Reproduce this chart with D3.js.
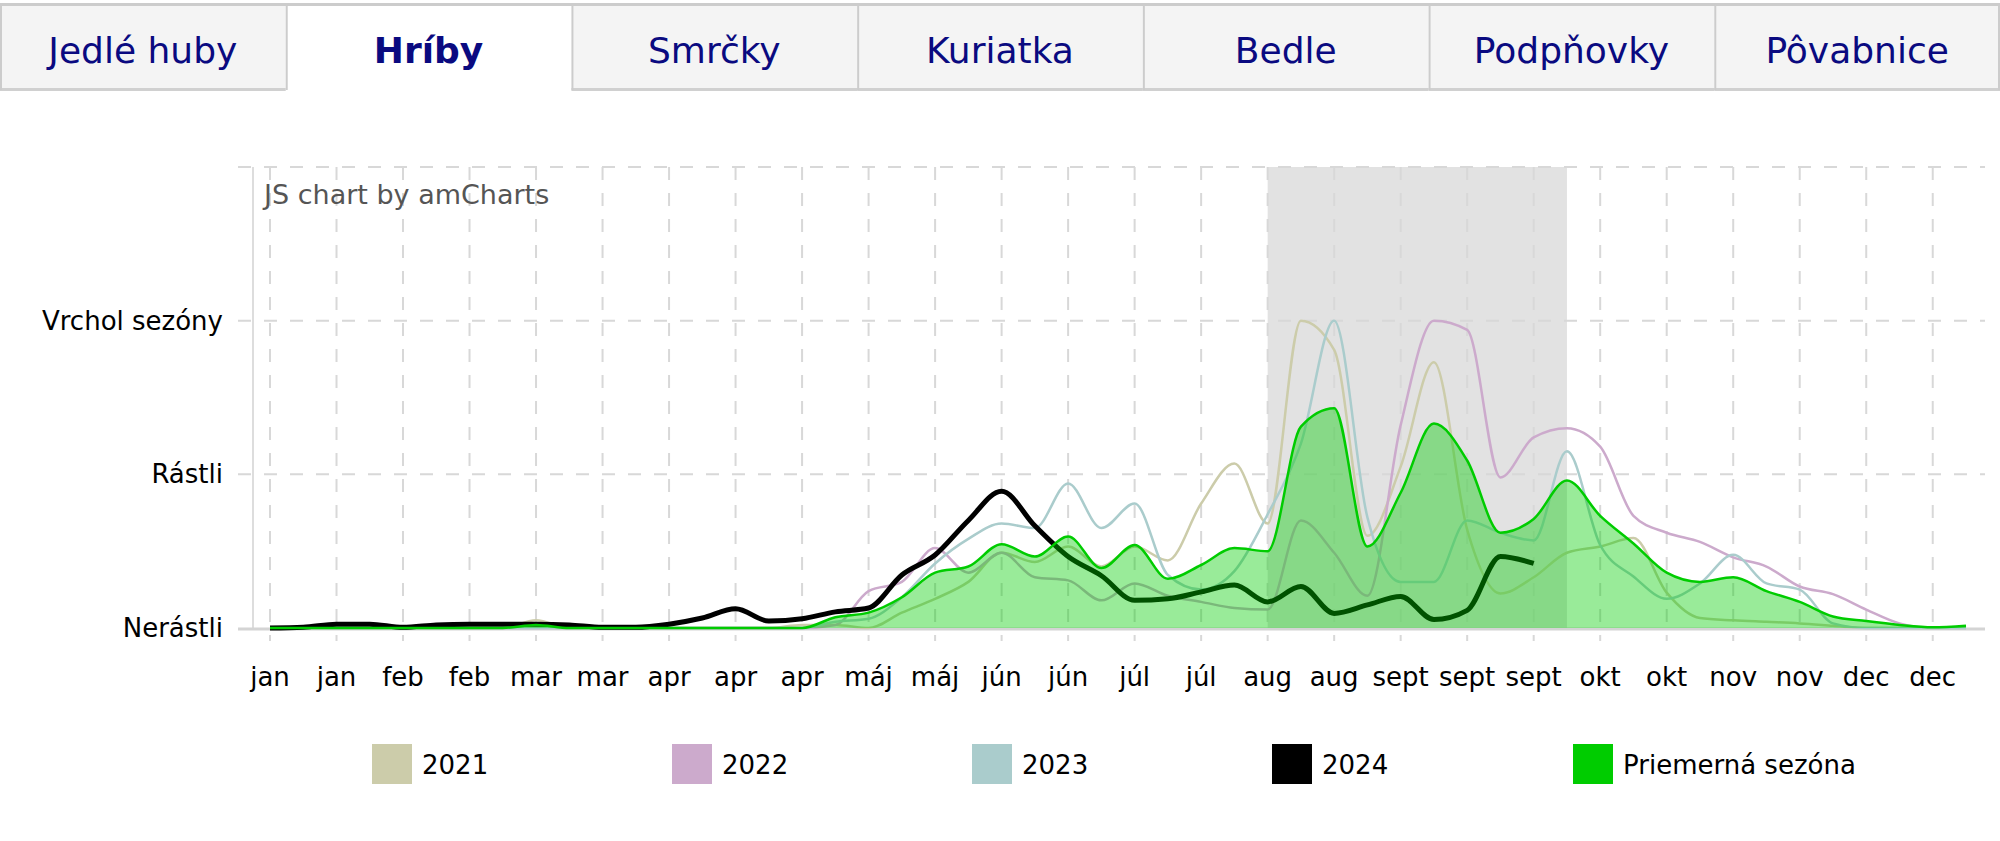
<!DOCTYPE html>
<html><head><meta charset="utf-8">
<script src="https://cdn.jsdelivr.net/npm/d3@7"></script>
<style>
html,body{margin:0;padding:0;background:#fff;}
svg{display:block;font-family:"DejaVu Sans",Verdana,sans-serif;}
</style></head>
<body><svg id="c" width="2000" height="841"></svg>
<script>
// ---- data ----
const tabs = ["Jedlé huby","Hríby","Smrčky","Kuriatka","Bedle","Podpňovky","Pôvabnice"];
const activeTab = 1;
const xTickLabels = ["jan","jan","feb","feb","mar","mar","apr","apr","apr","máj","máj","jún","jún","júl","júl","aug","aug","sept","sept","sept","okt","okt","nov","nov","dec","dec"];
const yTickLabels = ["Nerástli","Rástli","Vrchol sezóny"];
const seriesNames = ["2021","2022","2023","2024","Priemerná sezóna"];
const seriesColors = ["#CCCCAA","#CCAACC","#AACCCC","#000000","#00CC00"];
const s2021 = [0,0,0,0,0,0,0,0,0.05,0,0,0,0,0,0,0,0.02,0.02,0,0.10,0.19,0.30,0.49,0.43,0.53,0.40,0.53,0.44,0.81,1.07,0.68,2.0,1.81,0.60,1.05,1.73,0.64,0.225,0.33,0.49,0.53,0.585,0.23,0.065,0.05,0.04,0.03,0.015,0,0,0,0];
const s2022 = [0,0,0,0,0,0,0,0,0,0,0,0,0,0,0,0,0,0.02,0.24,0.30,0.52,0.36,0.49,0.33,0.31,0.18,0.29,0.21,0.17,0.13,0.12,0.70,0.49,0.21,1.32,2.0,1.94,0.98,1.24,1.30,1.18,0.73,0.62,0.56,0.46,0.40,0.27,0.22,0.12,0.03,0,0];
const s2023 = [0,0,0,0,0,0,0,0,0,0,0,0,0,0,0,0,0,0.04,0.06,0.20,0.42,0.58,0.68,0.65,0.94,0.65,0.81,0.345,0.25,0.37,0.74,1.2,2.0,0.72,0.30,0.30,0.70,0.62,0.57,1.15,0.54,0.335,0.19,0.29,0.476,0.29,0.25,0.03,0,0,0,0];
const s2024 = [0,0.005,0.025,0.025,0.005,0.02,0.025,0.025,0.025,0.02,0.005,0.005,0.025,0.065,0.125,0.045,0.06,0.105,0.13,0.345,0.475,0.70,0.89,0.665,0.465,0.34,0.18,0.19,0.235,0.28,0.17,0.27,0.095,0.15,0.205,0.055,0.115,0.465,0.42];
const sAvg = [0,0,0,0,0,0,0,0,0.02,0,0,0,0,0,0,0,0,0.07,0.10,0.20,0.36,0.40,0.545,0.465,0.595,0.39,0.54,0.32,0.41,0.52,0.50,1.31,1.43,0.53,0.88,1.33,1.09,0.62,0.71,0.96,0.73,0.55,0.36,0.30,0.33,0.24,0.17,0.075,0.045,0.02,0.005,0.015];
const bandWeeks = [30,39];
const yMax = 3;

// ---- layout ----
const svg = d3.select("#c");
const plotLeft = 253, plotRight = 1985, plotTop = 167, plotBottom = 628;
const x = d3.scaleLinear().domain([0,51]).range([270,1966]);
const y = d3.scaleLinear().domain([0,yMax]).range([plotBottom,plotTop]);

// tabs
const tabW = 2000/tabs.length;
const tg = svg.append("g");
tabs.forEach((t,i)=>{
  const x0 = i*tabW;
  tg.append("rect").attr("x",x0+1).attr("y",5).attr("width",tabW-1).attr("height",84)
    .attr("fill", i===activeTab ? "#ffffff" : "#f4f4f4");
});
tg.append("line").attr("x1",0).attr("x2",2000).attr("y1",4.5).attr("y2",4.5).attr("stroke","#cccccc").attr("stroke-width",3);
tabs.forEach((t,i)=>{
  const x0 = i*tabW;
  if(i!==activeTab) tg.append("line").attr("x1",x0).attr("x2",x0+tabW).attr("y1",89.5).attr("y2",89.5).attr("stroke","#d0d0d0").attr("stroke-width",3);
  tg.append("line").attr("x1",x0+1).attr("x2",x0+1).attr("y1",4).attr("y2",90).attr("stroke","#cccccc").attr("stroke-width",2);
  tg.append("text").attr("x",x0+tabW/2).attr("y",50).attr("text-anchor","middle").attr("dominant-baseline","central")
    .attr("font-size",36).attr("fill","#0a0a80").attr("font-weight", i===activeTab ? "bold":"normal").text(t);
});
tg.append("line").attr("x1",1999).attr("x2",1999).attr("y1",4).attr("y2",90).attr("stroke","#cccccc").attr("stroke-width",2);

// band
svg.append("rect").attr("x",x(bandWeeks[0])).attr("y",plotTop).attr("width",x(bandWeeks[1])-x(bandWeeks[0]))
  .attr("height",plotBottom-plotTop).attr("fill","#e2e2e2");

// grid
const grid = svg.append("g").attr("stroke","#d8d8d8").attr("stroke-width",2).attr("stroke-dasharray","13,13");
xTickLabels.forEach((l,i)=>{
  const xx = x(i*2);
  grid.append("line").attr("x1",xx).attr("x2",xx).attr("y1",plotTop).attr("y2",plotBottom+13);
});
d3.range(1,yMax+1).forEach(v=>{
  grid.append("line").attr("x1",plotLeft-15).attr("x2",plotRight).attr("y1",y(v)).attr("y2",y(v));
});
// axes lines
svg.append("line").attr("x1",plotLeft).attr("x2",plotLeft).attr("y1",plotTop).attr("y2",plotBottom).attr("stroke","#dddddd").attr("stroke-width",2);
svg.append("line").attr("x1",plotLeft-15).attr("x2",plotRight).attr("y1",plotBottom+1).attr("y2",plotBottom+1).attr("stroke","#d4d4d4").attr("stroke-width",3);

// labels
yTickLabels.forEach((l,i)=>{
  svg.append("text").attr("x",plotLeft-30).attr("y",y(i)).attr("text-anchor","end").attr("dominant-baseline","central")
    .attr("font-size",26).attr("fill","#000").text(l);
});
xTickLabels.forEach((l,i)=>{
  svg.append("text").attr("x",x(i*2)).attr("y",677).attr("text-anchor","middle").attr("dominant-baseline","central")
    .attr("font-size",26).attr("fill","#000").text(l);
});
svg.append("text").attr("x",264).attr("y",194).attr("dominant-baseline","central").attr("font-size",27)
  .attr("fill","#555").text("JS chart by amCharts");

// series
const line = d3.line().x((d,i)=>x(i)).y(d=>y(d)).curve(d3.curveMonotoneX);
const area = d3.area().x((d,i)=>x(i)).y0(y(0)).y1(d=>y(d)).curve(d3.curveMonotoneX);
const yearSeries = [s2021,s2022,s2023];
yearSeries.forEach((s,k)=>{
  svg.append("path").attr("d",line(s)).attr("fill","none").attr("stroke",seriesColors[k]).attr("stroke-width",2.5);
});
svg.append("path").attr("d",line(s2024)).attr("fill","none").attr("stroke",seriesColors[3]).attr("stroke-width",5).attr("stroke-linejoin","round");
svg.append("path").attr("d",area(sAvg)).attr("fill",seriesColors[4]).attr("fill-opacity",0.4);
svg.append("path").attr("d",line(sAvg)).attr("fill","none").attr("stroke",seriesColors[4]).attr("stroke-width",2.5);

// legend
const legX = [372,672,972,1272,1573];
seriesNames.forEach((n,i)=>{
  svg.append("rect").attr("x",legX[i]).attr("y",744).attr("width",40).attr("height",40).attr("fill",seriesColors[i]);
  svg.append("text").attr("x",legX[i]+50).attr("y",765).attr("dominant-baseline","central").attr("font-size",26).attr("fill","#000").text(n);
});
</script></body></html>
